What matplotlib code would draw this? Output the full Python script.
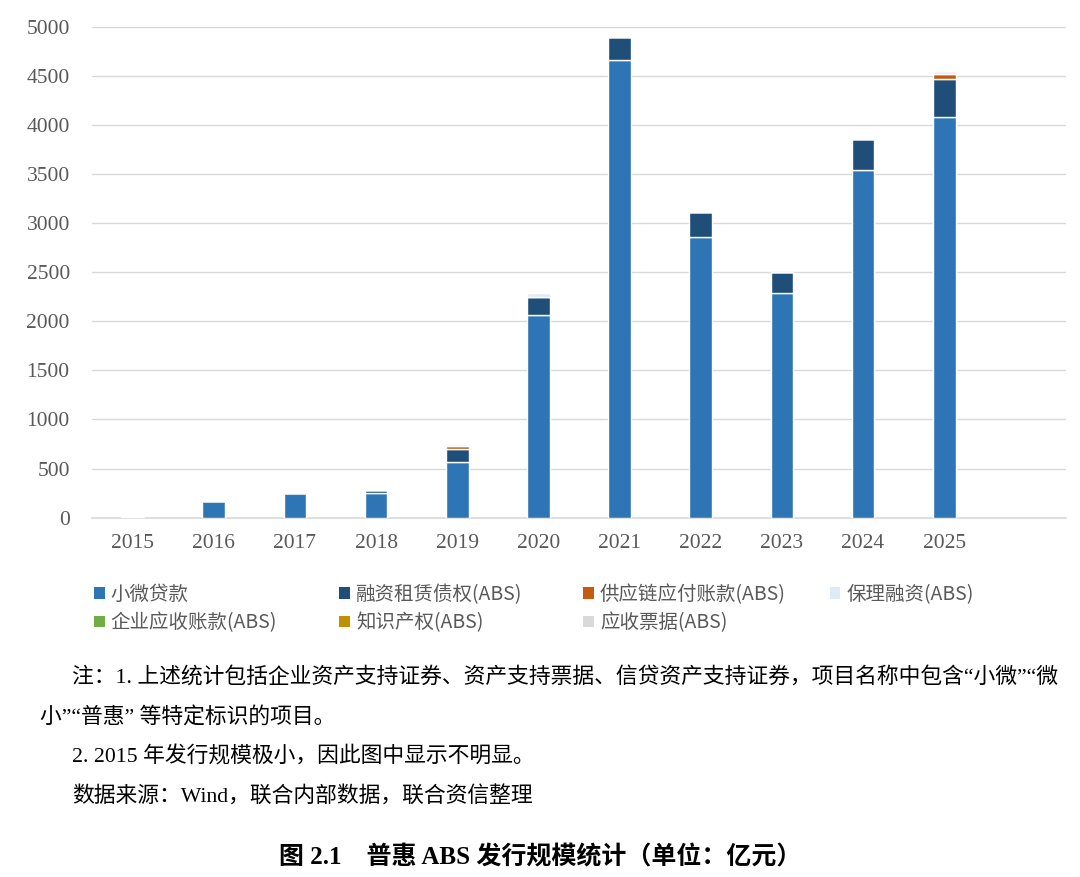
import matplotlib.pyplot as plt
import numpy as np
from matplotlib.patches import Patch

plt.rcParams['font.family'] = ['Liberation Serif', 'Noto Sans CJK SC', 'DejaVu Sans']

years = ["2015", "2016", "2017", "2018", "2019", "2020", "2021", "2022", "2023", "2024", "2025"]

# 亿元
micro_loan = [2, 175, 250, 255, 565, 2065, 4655, 2855, 2290, 3535, 4080]
leasing = [0, 0, 0, 32, 130, 180, 237, 262, 212, 320, 382]
supply_chain = [0, 0, 0, 0, 38, 0, 0, 0, 0, 0, 60]
factoring = [0, 0, 0, 0, 15, 38, 0, 0, 0, 0, 25]
receivables = [0, 0, 0, 0, 0, 18, 0, 0, 0, 0, 0]
ip_rights = [0] * 11
notes_recv = [0] * 11

series = [
    ("小微贷款", micro_loan, "#2E75B6"),
    ("融资租赁债权(ABS)", leasing, "#1F4E79"),
    ("供应链应付账款(ABS)", supply_chain, "#C55A11"),
    ("保理融资(ABS)", factoring, "#DDEBF7"),
    ("企业应收账款(ABS)", receivables, "#70AD47"),
    ("知识产权(ABS)", ip_rights, "#BF9000"),
    ("应收票据(ABS)", notes_recv, "#D9D9D9"),
]

fig = plt.figure(figsize=(10.8, 8.77), dpi=100)
ax = fig.add_axes([0.0852, 0.4097, 0.9018, 0.56])

x = np.arange(len(years))
bottom = np.zeros(len(years))
handles = {}
for label, values, color in series:
    vals = np.array(values, dtype=float)
    ax.bar(x, vals, width=0.28, bottom=bottom, color=color,
           edgecolor="white", linewidth=1, zorder=3)
    bottom += vals
    handles[label] = Patch(facecolor=color, edgecolor="none")

ax.set_xlim(-0.5, len(years) + 0.5)
ax.set_ylim(0, 5000)
ax.set_yticks(np.arange(0, 5001, 500))
ax.set_xticks(x, years)
ax.grid(axis="y", color="#D9D9D9", linewidth=1, zorder=0)
for side in ["top", "right", "left"]:
    ax.spines[side].set_visible(False)
ax.spines["bottom"].set_color("#D9D9D9")
ax.spines["bottom"].set_linewidth(1.2)
ax.tick_params(axis="both", length=0, labelsize=15.5, labelcolor="#595959")
ax.tick_params(axis="y", pad=16)
ax.tick_params(axis="x", pad=12)

# legend: 4 columns, 2 rows
columns = [
    ["小微贷款", "企业应收账款(ABS)"],
    ["融资租赁债权(ABS)", "知识产权(ABS)"],
    ["供应链应付账款(ABS)", "应收票据(ABS)"],
    ["保理融资(ABS)"],
]
col_x = [0.080, 0.307, 0.533, 0.761]
for cx, labels in zip(col_x, columns):
    leg = fig.legend([handles[l] for l in labels], labels,
                     loc="upper left", bbox_to_anchor=(cx, 0.343),
                     frameon=False, handlelength=0.55, handleheight=0.55,
                     handletextpad=0.3, labelspacing=0.38, borderaxespad=0,
                     prop={"family": "Noto Sans CJK SC", "size": 14})
    for t in leg.get_texts():
        t.set_color("#595959")

note_fs = 15.7
fig.text(0.067, 1 - 677 / 877,
         "注：1. 上述统计包括企业资产支持证券、资产支持票据、信贷资产支持证券，项目名称中包含“小微”“微",
         fontsize=note_fs, va="center", ha="left")
fig.text(0.037, 1 - 718 / 877, "小”“普惠” 等特定标识的项目。",
         fontsize=note_fs, va="center", ha="left")
fig.text(0.067, 1 - 757 / 877, "2. 2015 年发行规模极小，因此图中显示不明显。",
         fontsize=note_fs, va="center", ha="left")
fig.text(0.067, 1 - 797 / 877, "数据来源：Wind，联合内部数据，联合资信整理",
         fontsize=note_fs, va="center", ha="left")
fig.text(0.5, 1 - 857 / 877, "图 2.1　普惠 ABS 发行规模统计（单位：亿元）",
         fontsize=18, fontweight="bold", va="center", ha="center")

fig.savefig("out.png", dpi=100)
